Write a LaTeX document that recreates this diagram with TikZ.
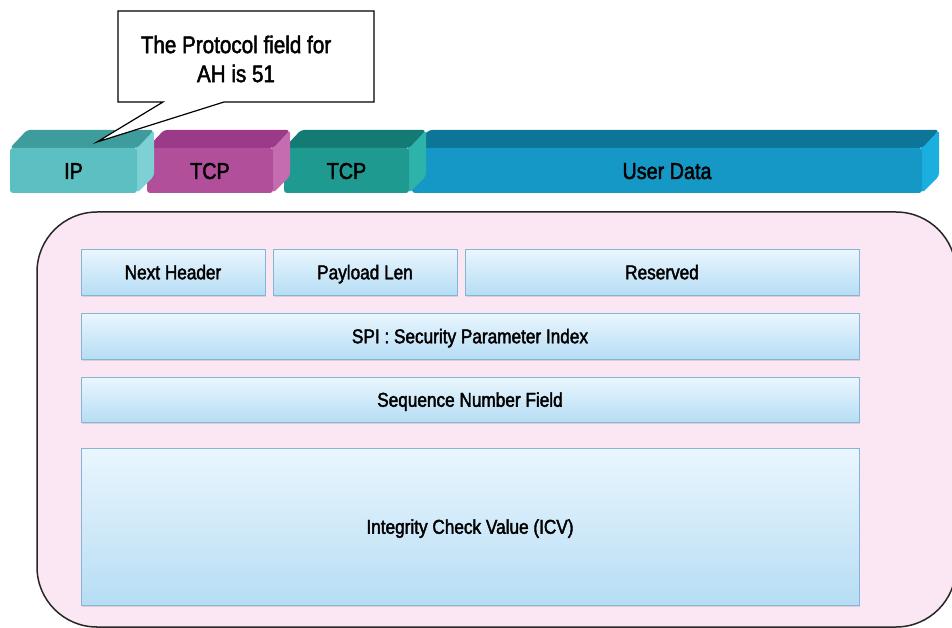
\documentclass[tikz,border=0pt]{standalone}
\usepackage{fontspec}
\setmainfont{Liberation Sans}[FakeStretch=0.86, FakeBold=2]
\usetikzlibrary{shadows}

\definecolor{ipfront}{HTML}{5CBFC1}
\definecolor{iptop}{HTML}{3E9C9D}
\definecolor{ipside}{HTML}{7DD0D3}
\definecolor{tcpafront}{HTML}{B24F9B}
\definecolor{tcpatop}{HTML}{9C3A8A}
\definecolor{tcpaside}{HTML}{C56CB1}
\definecolor{tcpbfront}{HTML}{1F9A90}
\definecolor{tcpbtop}{HTML}{137A74}
\definecolor{tcpbside}{HTML}{2DB3AA}
\definecolor{datafront}{HTML}{1598C5}
\definecolor{datatop}{HTML}{0D7598}
\definecolor{dataside}{HTML}{1BAFE0}
\definecolor{panelpink}{HTML}{FBE7F3}
\definecolor{fieldtop}{HTML}{EAF6FE}
\definecolor{fieldbot}{HTML}{B6DDF4}
\definecolor{fieldline}{HTML}{86B6D6}

% one 3D header block: name, left x, right x, front, top, side colour, label
\newcommand{\hdrblock}[7]{%
  \fill[#6, rounded corners=3pt] (#3-2,148) -- (#3+17,130) -- (#3+17,176) -- (#3,193) -- cycle;
  \fill[#5, rounded corners=3pt] (#2,148) -- (#2+17,130) -- (#3+17,130) -- (#3,148) -- cycle;
  \node[blk, fill=#4, minimum width={#3-#2}] (#1) at ({(#2+#3)/2},170.5) {#7};
}

\begin{document}
\begin{tikzpicture}[x=1pt, y=-1pt,
  blk/.style={rectangle, rounded corners=3pt, minimum height=45, inner sep=0pt, text height=17pt, text depth=0pt,
    font=\fontsize{23}{27}\selectfont},
  field/.style={rectangle, draw=fieldline, line width=1pt, top color=fieldtop, bottom color=fieldbot, inner sep=0pt,
    text height=14.5pt, text depth=0pt,
    drop shadow={shadow xshift=1pt, shadow yshift=-1.5pt, opacity=0.25}, font=\fontsize{20}{24}\selectfont},
  panel/.style={draw=black!85, line width=1.5pt, fill=panelpink, rounded corners=60pt},
  callout/.style={draw=black, line width=1.2pt, fill=white, line join=miter}]
	\clip (0,0) rectangle (952,628);

	% header blocks, back to front
	\hdrblock{data}{412}{922}{datafront}{datatop}{dataside}{User Data}
	\hdrblock{tcpb}{284}{409}{tcpbfront}{tcpbtop}{tcpbside}{TCP}
	\hdrblock{tcpa}{147}{273}{tcpafront}{tcpatop}{tcpaside}{TCP}
	\hdrblock{ip}{10}{137}{ipfront}{iptop}{ipside}{IP}

	% callout
	\coordinate (tip) at (97,142);
	\draw[callout] (118,11) -- (374,11) -- (374,102) -- (224,102) -- (tip) -- (163,102) -- (118,102) -- cycle;
	\node[align=center, font=\fontsize{24}{29}\selectfont] (note) at (236,59) {The Protocol field for\\AH is 51};

	% AH header
	\draw[panel] (37,212) rectangle (956,627);
	\node[field, minimum width=184, minimum height=46] (nexthdr) at (173,272) {Next Header};
	\node[field, minimum width=184, minimum height=46] (paylen) at (365,272) {Payload Len};
	\node[field, minimum width=394, minimum height=46] (resvd) at (662,272) {Reserved};
	\node[field, minimum width=778, minimum height=46] (spi) at (470,336) {SPI : Security Parameter Index};
	\node[field, minimum width=778, minimum height=45] (seqnum) at (470,399.5) {Sequence Number Field};
	\node[field, minimum width=778, minimum height=157] (icv) at (470,526.5) {Integrity Check Value (ICV)};
\end{tikzpicture}
\end{document}
